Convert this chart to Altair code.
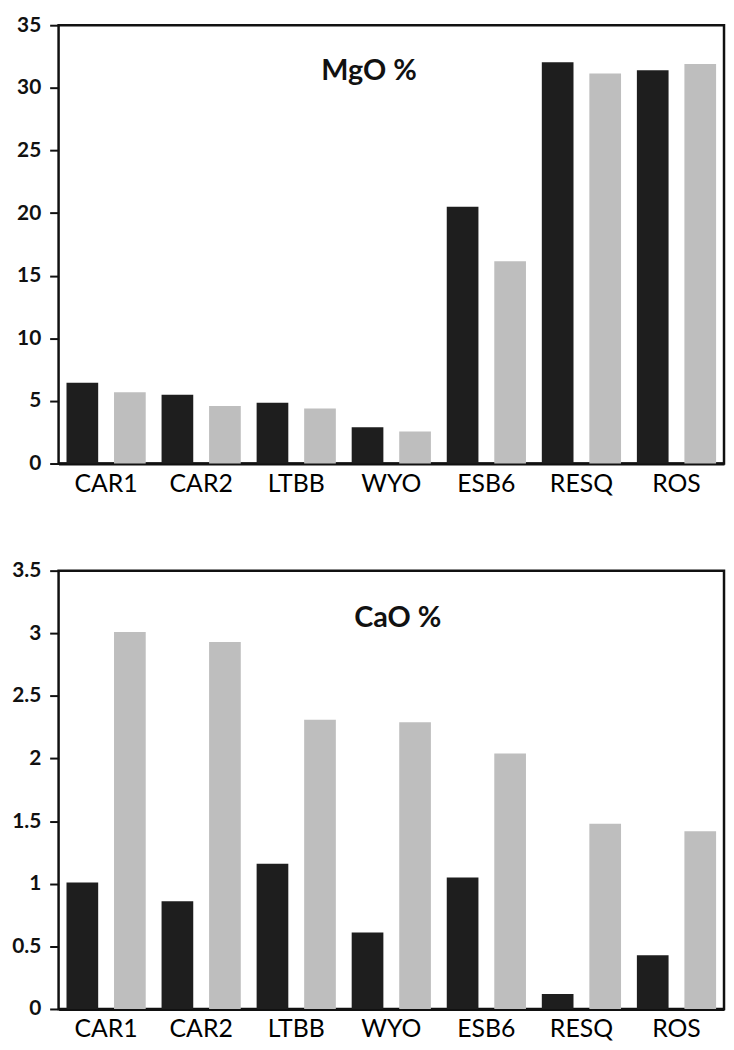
import altair as alt
import pandas as pd

sites = ["CAR1", "CAR2", "LTBB", "WYO", "ESB6", "RESQ", "ROS"]
series = ["Series 1", "Series 2"]
mgo_s1 = [6.45, 5.5, 4.85, 2.9, 20.5, 32.05, 31.4]
mgo_s2 = [5.7, 4.6, 4.4, 2.55, 16.15, 31.15, 31.9]
cao_s1 = [1.01, 0.86, 1.16, 0.61, 1.05, 0.12, 0.43]
cao_s2 = [3.01, 2.93, 2.31, 2.29, 2.04, 1.48, 1.42]
mgo_ticks = [0, 5, 10, 15, 20, 25, 30, 35]
cao_ticks = [0, 0.5, 1, 1.5, 2, 2.5, 3, 3.5]
colors = ["#1e1e1e", "#bebebe"]

W, H = 671, 442


def panel(v1, v2, title, ticks, fmt, tx, ty):
    df = pd.DataFrame({
        "site": sites * 2,
        "series": [series[0]] * len(sites) + [series[1]] * len(sites),
        "value": v1 + v2,
    })
    bars = alt.Chart(df).mark_bar().encode(
        x=alt.X("site:N", sort=sites,
                scale=alt.Scale(paddingInner=0, paddingOuter=0),
                axis=alt.Axis(title=None, labelAngle=0, labelFont="Lato",
                              labelFontSize=25, labelColor="black", ticks=False,
                              domainColor="#111111", domainWidth=3, labelPadding=8)),
        xOffset=alt.XOffset("series:N", sort=series,
                            scale=alt.Scale(paddingInner=1 / 3, paddingOuter=1 / 6)),
        y=alt.Y("value:Q", scale=alt.Scale(domain=[ticks[0], ticks[-1]], nice=False),
                axis=alt.Axis(title=None, values=ticks, format=fmt, grid=False,
                              labelFont="Lato", labelFontSize=21, labelFontWeight="bold",
                              labelColor="#111111", tickColor="#111111", tickSize=9,
                              tickWidth=2, domain=False, labelPadding=9,
                              minExtent=49, maxExtent=49)),
        color=alt.Color("series:N", sort=series,
                        scale=alt.Scale(domain=series, range=colors), legend=None),
    )
    label = alt.Chart(pd.DataFrame({"t": [title]})).mark_text(
        font="Lato", fontSize=29, fontWeight="bold", color="#111111",
        align="center", baseline="alphabetic"
    ).encode(text="t:N", x=alt.value(tx), y=alt.value(ty))
    return alt.layer(bars, label).properties(width=W, height=H)


top = panel(mgo_s1, mgo_s2, "MgO %", mgo_ticks, "d", 313, 55)
bottom = panel(cao_s1, cao_s2, "CaO %", cao_ticks, ".1~f", 342, 57)

chart = alt.vconcat(top, bottom, spacing=60).properties(
    padding={"left": 0, "top": 0, "right": 0, "bottom": 0}
).configure(background="white").configure_view(stroke="#111111", strokeWidth=2.5)

chart.save("out.html", embed_options={"renderer": "svg", "actions": False})
